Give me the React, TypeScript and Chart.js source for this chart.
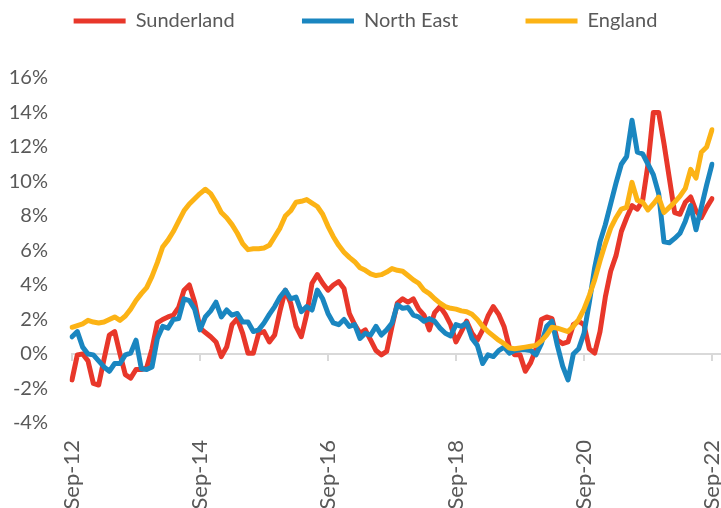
import React, { useEffect, useRef } from "react";
import { Chart, registerables } from "chart.js";

Chart.register(...registerables);

// Monthly categories Sep-12 .. Sep-22
const MONTHS = ["Jan", "Feb", "Mar", "Apr", "May", "Jun", "Jul", "Aug", "Sep", "Oct", "Nov", "Dec"];
const CATEGORIES: string[] = [];
for (let i = 0; i <= 120; i++) {
  const m = (8 + i) % 12;
  const y = 12 + Math.floor((8 + i) / 12);
  CATEGORIES.push(`${MONTHS[m]}-${y}`);
}
const TICK_LABELS = ["Sep-12", "Sep-14", "Sep-16", "Sep-18", "Sep-20", "Sep-22"];
const Y_TICKS = [-4, -2, 0, 2, 4, 6, 8, 10, 12, 14, 16];

const SUNDERLAND = [
  -1.5, -0.05, 0.0, -0.4, -1.7, -1.8, -0.3, 1.1, 1.3, 0.0,
  -1.2, -1.4, -0.9, -0.9, -0.8, 0.3, 1.8, 2.0, 2.15, 2.25,
  2.7, 3.7, 4.0, 3.0, 1.5, 1.25, 1.0, 0.7, -0.15, 0.4,
  1.7, 2.05, 1.2, 0.05, 0.05, 1.2, 1.3, 0.7, 1.1, 2.5,
  3.7, 2.95, 1.6, 1.0, 2.3, 4.1, 4.6, 4.1, 3.7, 4.0,
  4.2, 3.8, 2.35, 1.7, 1.2, 1.4, 0.8, 0.2, -0.05, 0.15,
  1.6, 2.95, 3.2, 3.0, 3.2, 2.6, 2.25, 1.4, 2.4, 2.75,
  2.3, 1.7, 0.7, 1.3, 1.9, 1.2, 0.8, 1.4, 2.2, 2.75,
  2.3, 1.6, 0.4, -0.05, -0.05, -1.0, -0.5, 0.3, 2.0, 2.15,
  2.05, 0.8, 0.6, 0.7, 1.7, 1.9, 1.7, 0.3, 0.05, 1.3,
  3.3, 4.8, 5.7, 7.1, 7.9, 8.6, 8.4, 8.9, 11.0, 14.0,
  14.0, 12.2, 10.2, 8.2, 8.1, 8.8, 9.1, 8.3, 7.9, 8.5,
  9.0,
];

const NORTH_EAST = [
  1.0, 1.3, 0.4, 0.0, -0.05, -0.4, -0.75, -1.0, -0.55, -0.55,
  -0.05, 0.05, 0.8, -0.85, -0.9, -0.75, 0.9, 1.6, 1.5, 2.0,
  2.05, 3.2, 3.1, 2.6, 1.4, 2.15, 2.5, 3.0, 2.15, 2.55,
  2.25, 2.35, 1.85, 1.85, 1.3, 1.4, 1.8, 2.3, 2.75, 3.3,
  3.7, 3.2, 3.3, 2.45, 2.75, 2.55, 3.7, 3.2, 2.35, 1.8,
  1.7, 2.0, 1.6, 1.7, 0.9, 1.2, 1.1, 1.6, 1.1, 1.4,
  1.8, 2.85, 2.65, 2.7, 2.25, 2.15, 1.9, 2.05, 1.9, 1.5,
  1.2, 1.05, 1.7, 1.6, 1.8, 0.9, 0.5, -0.55, -0.05, -0.15,
  0.2, 0.4, 0.05, 0.2, 0.25, 0.25, 0.2, -0.05, 0.6, 1.6,
  1.9, 0.5, -0.7, -1.5, 0.0, 0.3, 1.2, 3.0, 5.0, 6.5,
  7.5, 8.7, 9.9, 11.0, 11.45, 13.55, 11.7, 11.6, 11.0, 10.4,
  9.3, 6.5, 6.45, 6.7, 7.0, 7.7, 8.6, 7.2, 8.5, 9.8,
  11.0,
];

const ENGLAND = [
  1.55, 1.65, 1.75, 1.95, 1.85, 1.8, 1.85, 2.0, 2.15, 1.95,
  2.2, 2.6, 3.1, 3.5, 3.85, 4.5, 5.3, 6.2, 6.6, 7.1,
  7.7, 8.3, 8.7, 9.0, 9.3, 9.55, 9.3, 8.8, 8.2, 7.9,
  7.5, 7.0, 6.4, 6.05, 6.1, 6.1, 6.15, 6.3, 6.8, 7.3,
  8.0, 8.3, 8.8, 8.85, 8.95, 8.75, 8.55, 8.1, 7.4, 6.8,
  6.3, 5.9, 5.6, 5.35, 5.0, 4.85, 4.65, 4.55, 4.6, 4.75,
  4.95, 4.85, 4.8, 4.55, 4.3, 4.1, 3.7, 3.5, 3.2, 2.95,
  2.75, 2.65, 2.6, 2.5, 2.45, 2.3, 2.0, 1.6, 1.3, 1.05,
  0.8, 0.6, 0.35, 0.3, 0.35, 0.4, 0.45, 0.5, 0.75, 1.1,
  1.55, 1.5, 1.4, 1.3, 1.6, 2.0, 2.6, 3.4, 4.3, 5.4,
  6.4, 7.3, 7.9, 8.4, 8.5, 9.95, 8.9, 8.8, 8.35, 8.7,
  9.1, 8.2, 8.5, 8.8, 9.15, 9.6, 10.7, 10.2, 11.7, 12.0,
  13.0,
];

const SERIES_NAMES = ["Sunderland", "North East", "England"];
const COLORS = ["#E8372A", "#1A86C0", "#FCB315"];

const TEXT_COLOR = "#595959";
const FONT = "Lato";

const zeroLinePlugin = {
  id: "zeroLine",
  beforeDatasetsDraw(chart: any) {
    const { ctx, chartArea, scales } = chart;
    const y = scales.y.getPixelForValue(0);
    ctx.save();
    ctx.strokeStyle = "#D9D9D9";
    ctx.lineWidth = 2;
    ctx.beginPath();
    ctx.moveTo(chartArea.left - 1, y);
    ctx.lineTo(chart.width, y);
    CATEGORIES.forEach((c, i) => {
      if (TICK_LABELS.includes(c)) {
        const x = scales.x.getPixelForValue(i);
        ctx.moveTo(x, y);
        ctx.lineTo(x, y + 7);
      }
    });
    ctx.stroke();
    ctx.restore();
  },
};

const legendSpacerPlugin = {
  id: "legendSpacer",
  beforeLayout(chart: any) {
    const lg = chart.legend;
    if (lg && !lg.__patched) {
      const orig = lg.fit;
      lg.fit = function () {
        orig.call(this);
        this.height = 78;
      };
      lg.__patched = true;
    }
  },
};

function spaces(px: number): string {
  const c = document.createElement("canvas").getContext("2d");
  if (!c) return "";
  c.font = `20px ${FONT}`;
  const w = c.measureText(" ").width || 5;
  return " ".repeat(Math.max(0, Math.round(px / w)));
}

export default function App() {
  const ref = useRef<HTMLCanvasElement>(null);

  useEffect(() => {
    if (!ref.current) return;
    const pad = spaces(58);
    const datasets = [SUNDERLAND, NORTH_EAST, ENGLAND].map((data, i) => ({
      label: SERIES_NAMES[i],
      data,
      borderColor: COLORS[i],
      backgroundColor: COLORS[i],
      borderWidth: 5,
      pointRadius: 0,
      pointHoverRadius: 0,
      tension: 0,
      borderJoinStyle: "round" as const,
      borderCapStyle: "round" as const,
      fill: false,
      order: 3 - i,
    }));

    const chart = new Chart(ref.current, {
      type: "line",
      data: { labels: CATEGORIES, datasets },
      plugins: [zeroLinePlugin, legendSpacerPlugin],
      options: {
        animation: false,
        responsive: false,
        maintainAspectRatio: false,
        layout: { padding: { top: 0, left: 10, right: 0, bottom: 0 } },
        font: { family: FONT, size: 20 },
        color: TEXT_COLOR,
        plugins: {
          tooltip: { enabled: false },
          legend: {
            position: "top",
            align: "center",
            labels: {
              usePointStyle: true,
              pointStyle: "line",
              pointStyleWidth: 52,
              boxHeight: 20,
              padding: 11,
              color: TEXT_COLOR,
              font: { family: FONT, size: 20 },
              sort: (a: any, b: any) => a.datasetIndex - b.datasetIndex,
              generateLabels: (chart: any) => {
                const items = Chart.defaults.plugins.legend.labels.generateLabels(chart);
                items.sort((a: any, b: any) => a.datasetIndex - b.datasetIndex);
                return items.map((it: any, idx: number) => ({
                  ...it,
                  text: idx < items.length - 1 ? it.text + pad : it.text,
                }));
              },
            },
          },
        },
        scales: {
          x: {
            type: "category",
            offset: false,
            grid: { display: false, drawTicks: false },
            border: { display: false },
            ticks: {
              autoSkip: false,
              minRotation: 90,
              maxRotation: 90,
              padding: 17,
              color: TEXT_COLOR,
              font: { family: FONT, size: 22 },
              callback: (_v: any, i: number) => (TICK_LABELS.includes(CATEGORIES[i]) ? CATEGORIES[i] : ""),
            },
            afterFit: (scale: any) => {
              scale.height = 85;
              scale.paddingLeft = 0;
              scale.paddingRight = 9;
            },
          },
          y: {
            min: Y_TICKS[0],
            max: Y_TICKS[Y_TICKS.length - 1],
            grid: { display: false, drawTicks: false },
            border: { display: false },
            ticks: {
              stepSize: 2,
              padding: 24,
              color: TEXT_COLOR,
              font: { family: FONT, size: 20 },
              callback: (v: any) => `${v}%`,
            },
            afterFit: (scale: any) => {
              scale.width = 62;
              scale.paddingTop = 0;
              scale.paddingBottom = 0;
            },
          },
        },
      },
    });
    return () => chart.destroy();
  }, []);

  return (
    <div style={{ position: "fixed", left: 0, top: 0, width: 721, height: 508, background: "#fff" }}>
      <canvas ref={ref} width={721} height={508} style={{ display: "block", width: 721, height: 508 }} />
    </div>
  );
}
